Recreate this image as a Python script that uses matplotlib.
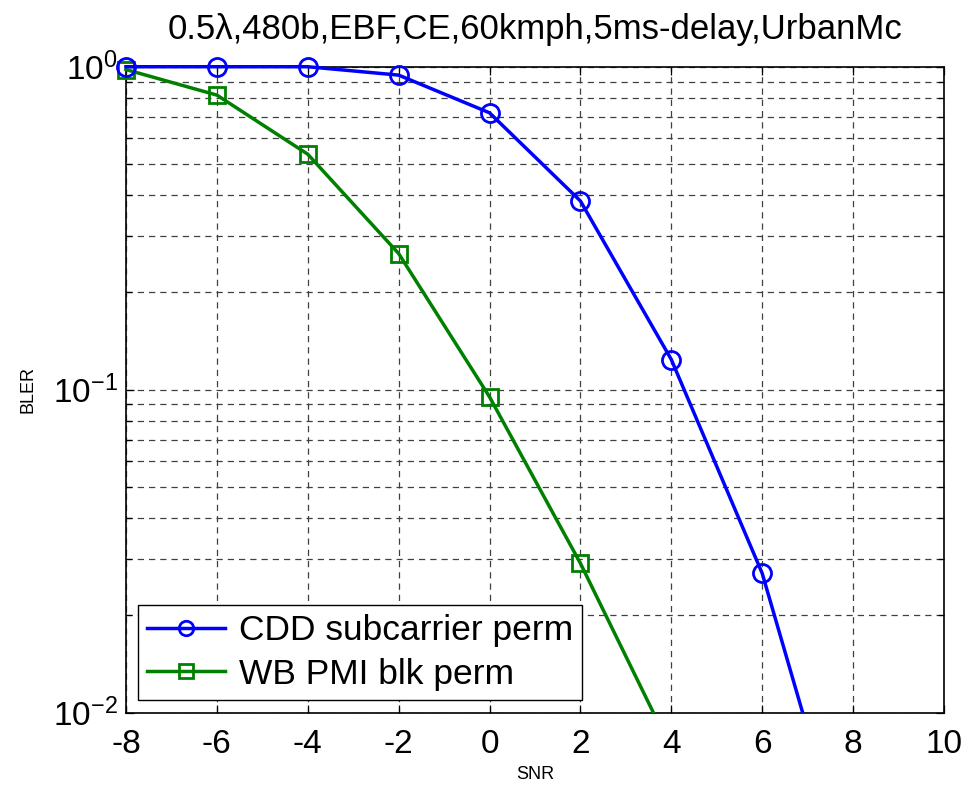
import matplotlib
matplotlib.use('Agg')

import matplotlib.pyplot as plt
from matplotlib.patches import Rectangle
from matplotlib.ticker import LogLocator, NullFormatter

plt.rcParams['font.family'] = ['Liberation Sans', 'DejaVu Sans']
plt.rcParams['mathtext.fontset'] = 'custom'
plt.rcParams['mathtext.rm'] = 'Liberation Sans'
plt.rcParams['mathtext.it'] = 'Liberation Sans:italic'
plt.rcParams['axes.unicode_minus'] = False

snr = [-8, -6, -4, -2, 0, 2, 4, 6, 8]
bler_cdd = [1.0, 1.0, 1.0, 0.942, 0.72, 0.384, 0.124, 0.027, 0.0029]
snr_wb = [-8, -6, -4, -2, 0, 2, 4]
bler_wb = [0.98, 0.817, 0.536, 0.264, 0.095, 0.029, 0.0077]
labels = ['CDD subcarrier perm', 'WB PMI blk perm']
x_ticks = [-8, -6, -4, -2, 0, 2, 4, 6, 8, 10]

fig = plt.figure(figsize=(9.66, 7.86), dpi=100)
ax = fig.add_axes([0.1304, 0.0933, 0.8468, 0.8218])

ax.plot(snr, bler_cdd, color='#0000ff', lw=2.5, marker='o', ms=13,
        mfc='none', mec='#0000ff', mew=2, label=labels[0], zorder=4)
ax.plot(snr_wb, bler_wb, color='#008000', lw=2.5, marker='s', ms=12,
        mfc='none', mec='#008000', mew=2, label=labels[1], zorder=3)

ax.set_yscale('log')
ax.set_xlim(-8, 10)
ax.set_ylim(1e-2, 1)
ax.set_xticks(x_ticks)
ax.yaxis.set_major_locator(LogLocator(base=10, numticks=5))
ax.yaxis.set_minor_locator(LogLocator(base=10, subs=range(2, 10), numticks=20))
ax.yaxis.set_minor_formatter(NullFormatter())

# clip lines at the bottom, but let the markers on the top edge show fully
clip_rect = Rectangle((-0.05, 0.0), 1.1, 1.1, transform=ax.transAxes)
for line in ax.lines:
    line.set_clip_path(clip_rect)

ax.grid(True, which='major', axis='both', ls=(0, (5, 4)), color='0.25', lw=0.9)
ax.grid(True, which='minor', axis='y', ls=(0, (5, 4)), color='0.25', lw=0.9)

ax.tick_params(which='both', direction='in', top=True, right=True)
ax.tick_params(which='major', length=6, width=0.9, labelsize=24)
ax.tick_params(axis='x', which='major', pad=12)
ax.tick_params(axis='y', which='major', pad=6)
ax.tick_params(which='minor', length=4, width=0.9)
for s in ax.spines.values():
    s.set_linewidth(1.2)

ax.set_title('0.5λ,480b,EBF,CE,60kmph,5ms-delay,UrbanMc', fontsize=25, pad=20)
ax.set_xlabel('SNR', fontsize=13, labelpad=4)
ax.set_ylabel('BLER', fontsize=13, labelpad=12)

leg = ax.legend(loc='lower left', bbox_to_anchor=(0.015, 0.02), borderaxespad=0,
                fontsize=25.5, fancybox=False, edgecolor='black', framealpha=1,
                numpoints=1, handlelength=2.2, handletextpad=0.4,
                labelspacing=0.3, borderpad=0.25, markerscale=0.8)
leg.get_frame().set_linewidth(1.0)

fig.savefig('out.png', dpi=100)
